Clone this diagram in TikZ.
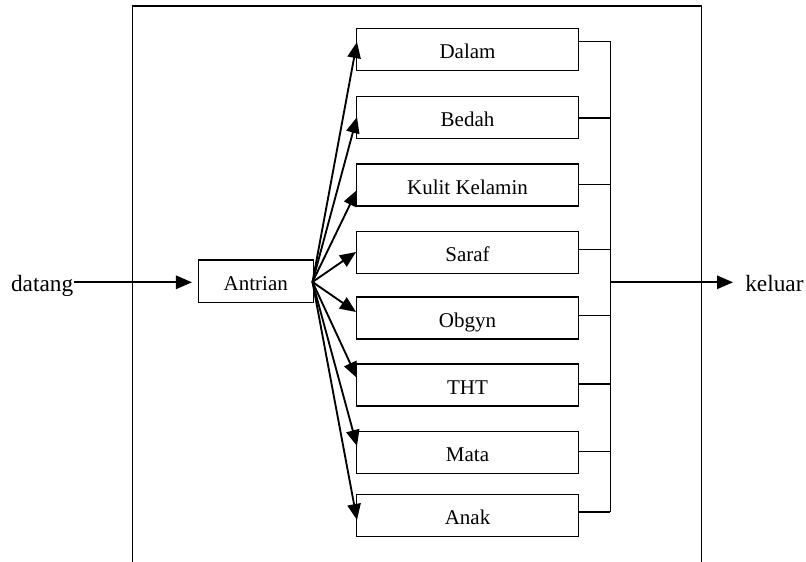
\documentclass[tikz,border=0pt]{standalone}
\usepackage{fontspec}
\setmainfont{Liberation Serif}
\usetikzlibrary{arrows.meta}
\begin{document}
\begin{tikzpicture}[x=0.75pt,y=-0.75pt,
  ubox/.style={draw,line width=1.1pt,minimum width=166.2pt,minimum height=31.5pt,inner sep=0pt,text height=13.5pt,text depth=0pt,font=\fontsize{15.75}{18}\selectfont},
  abox/.style={ubox,minimum width=86.25pt,minimum height=32pt},
  lbl/.style={inner sep=0pt,font=\fontsize{17.5}{20}\selectfont},
  arr/.style={line width=1.4pt,-{Triangle[length=12pt,width=10pt]}},
  bus/.style={line width=1pt}]
\useasboundingbox (0,0) rectangle (806,561);
\draw[line width=1pt] (132.5,6) rectangle (701.7,566);
% units
\node[ubox] (dalam) at (467.5,49.3) {Dalam};
\node[ubox] (bedah) at (467.5,117.7) {Bedah};
\node[ubox] (kulit) at (467.5,185) {Kulit Kelamin};
\node[ubox] (saraf) at (467.5,252.5) {Saraf};
\node[ubox] (obgyn) at (467.5,318) {Obgyn};
\node[ubox] (tht) at (467.5,385) {THT};
\node[ubox] (mata) at (467.5,452.3) {Mata};
\node[ubox] (anak) at (467.5,515.3) {Anak};
\node[abox] (ant) at (255.8,281.3) {Antrian};
\node[lbl,anchor=base east] (dat) at (73.5,291.5) {datang};
\node[lbl,anchor=base west] (kel) at (745,291) {keluar};
% arrow tips
\coordinate (tD) at (357,42);
\coordinate (tB) at (357,117);
\coordinate (tK) at (357,190);
\coordinate (tS) at (356,252);
\coordinate (tO) at (356,312);
\coordinate (tT) at (357,378);
\coordinate (tM) at (357,446);
\coordinate (tA) at (357,520);
\coordinate (fan) at (312.5,282);
\foreach \t in {tD,tB,tK,tS,tO,tT,tM,tA}
  \draw[arr] (fan) -- (\t);
% bus
\coordinate (bD) at (610.3,41.3);
\coordinate (bB) at (610.3,118);
\coordinate (bK) at (610.3,184.5);
\coordinate (bS) at (610.3,249.3);
\coordinate (bO) at (610.3,315.7);
\coordinate (bT) at (610.3,384);
\coordinate (bM) at (610.3,451.3);
\coordinate (bA) at (610.3,512);
\coordinate (bOut) at (610.3,282.3);
\draw[bus] (dalam.east |- bD) -- (bD);
\draw[bus] (bedah.east |- bB) -- (bB);
\draw[bus] (kulit.east |- bK) -- (bK);
\draw[bus] (saraf.east |- bS) -- (bS);
\draw[bus] (obgyn.east |- bO) -- (bO);
\draw[bus] (tht.east |- bT) -- (bT);
\draw[bus] (mata.east |- bM) -- (bM);
\draw[bus] (anak.east |- bA) -- (bA);
\draw[bus] (bD) -- (bA);
% in/out
\draw[arr,shorten >=4.2pt] (dat.east |- 0,282.3) -- (ant.west |- 0,282.3);
\draw[arr,shorten >=9pt] (bOut) -- (kel.west |- bOut);
\end{tikzpicture}
\end{document}
